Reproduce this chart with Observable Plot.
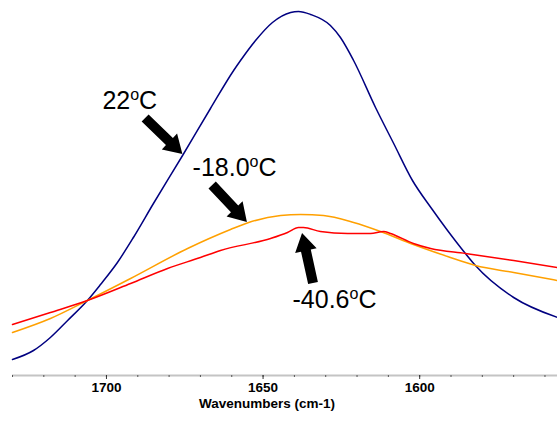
<!DOCTYPE html>
<html><head><meta charset="utf-8">
<script src="https://cdn.jsdelivr.net/npm/d3@7"></script>
<script src="https://cdn.jsdelivr.net/npm/@observablehq/plot@0.6"></script>
<style>body{margin:0;background:#fff;}</style>
</head><body><div id="chart"></div>
<script>
// Series: 22°C (navy)
const navyWn  = [1730.0, 1723.3, 1717.9, 1712.4, 1706.1, 1701.9, 1696.5, 1691.4, 1685.0, 1675.7, 1666.8, 1659.4, 1657.2, 1652.4, 1647.0, 1641.2, 1638.7, 1634.8, 1628.5, 1625.3, 1621.1, 1614.1, 1608.3, 1602.3, 1596.2, 1591.1, 1585.4, 1582.2, 1570.0, 1556.0];
const navyAbs = [0.032, 0.050, 0.076, 0.110, 0.150, 0.182, 0.226, 0.276, 0.344, 0.440, 0.534, 0.610, 0.630, 0.670, 0.706, 0.726, 0.728, 0.722, 0.700, 0.676, 0.630, 0.536, 0.464, 0.390, 0.334, 0.290, 0.244, 0.220, 0.156, 0.116];
// Series: -18.0°C (orange)
const orangeWn  = [1730.0, 1717.9, 1706.1, 1692.3, 1674.1, 1660.4, 1654.6, 1644.4, 1638.0, 1630.7, 1621.1, 1612.5, 1602.0, 1591.1, 1582.2, 1570.0, 1556.0];
const orangeAbs = [0.086, 0.114, 0.150, 0.194, 0.254, 0.292, 0.306, 0.320, 0.322, 0.320, 0.306, 0.288, 0.262, 0.238, 0.220, 0.206, 0.190];
// Series: -40.6°C (red)
const redWn  = [1730.0, 1717.9, 1706.1, 1692.3, 1680.5, 1670.0, 1663.6, 1647.6, 1642.2, 1638.7, 1637.1, 1631.7, 1623.0, 1615.7, 1611.5, 1609.3, 1602.0, 1596.5, 1585.4, 1570.0, 1556.0];
const redAbs = [0.102, 0.126, 0.150, 0.184, 0.214, 0.236, 0.250, 0.274, 0.286, 0.296, 0.296, 0.288, 0.284, 0.284, 0.288, 0.284, 0.264, 0.254, 0.244, 0.230, 0.216];

// Annotations
const labelTexts = ["22°C", "-18.0°C", "-40.6°C"];
const labelWn    = [1701.3, 1672.5, 1640.6];
const labelAbs   = [0.534, 0.400, 0.136];
const arrowTailWn  = [1687.5, 1666.1, 1633.9];
const arrowTailAbs = [0.514, 0.380, 0.184];
const arrowTipWn   = [1675.6, 1655.0, 1637.4];
const arrowTipAbs  = [0.442, 0.306, 0.284];

// Axis
const majorTicks = [1700, 1650, 1600];
const minorTicks = [1730, 1720, 1710, 1700, 1690, 1680, 1670, 1660, 1650, 1640, 1630, 1620, 1610, 1600, 1590, 1580, 1570, 1560];
const xTitle = "Wavenumbers (cm-1)";

const toRows = (wn, ab) => wn.map((w, i) => ({wn: w, abs: ab[i]}));
const navy = toRows(navyWn, navyAbs);
const orange = toRows(orangeWn, orangeAbs);
const red = toRows(redWn, redAbs);
const labels = labelTexts.map((t, i) => ({text: t, wn: labelWn[i], abs: labelAbs[i]}));

const blockArrows = (index, scales) => {
  const ns = "http://www.w3.org/2000/svg";
  const g = document.createElementNS(ns, "g");
  const sw = 5, hw = 11, hl = 18;
  for (let i = 0; i < arrowTipWn.length; i++) {
    const tx = scales.x(arrowTailWn[i]), ty = scales.y(arrowTailAbs[i]);
    const px = scales.x(arrowTipWn[i]), py = scales.y(arrowTipAbs[i]);
    const L = Math.hypot(px - tx, py - ty);
    const ux = (px - tx) / L, uy = (py - ty) / L;
    const nx = -uy, ny = ux;
    const bx = px - ux * hl, by = py - uy * hl;
    const pts = [
      [tx + nx * sw, ty + ny * sw], [bx + nx * sw, by + ny * sw], [bx + nx * hw, by + ny * hw],
      [px, py],
      [bx - nx * hw, by - ny * hw], [bx - nx * sw, by - ny * sw], [tx - nx * sw, ty - ny * sw]
    ];
    const p = document.createElementNS(ns, "polygon");
    p.setAttribute("points", pts.map(d => d.join(",")).join(" "));
    p.setAttribute("fill", "#000");
    g.appendChild(p);
  }
  return g;
};

const chart = Plot.plot({
  width: 557,
  height: 421,
  marginLeft: 12,
  marginRight: 0,
  marginTop: 0,
  marginBottom: 46,
  style: {fontFamily: "'Liberation Sans', Arial, sans-serif", background: "#fff"},
  x: {domain: [1730, 1556], label: null},
  y: {domain: [0, 0.75], axis: null},
  marks: [
    Plot.ruleY([0], {stroke: "#c4c4c4", strokeWidth: 2}),
    Plot.axisX({ticks: minorTicks, tickSize: 2, fill: "none", stroke: "#555", label: null}),
    Plot.axisX({ticks: majorTicks, tickFormat: d => String(d), tickSize: 4, tickPadding: 3, stroke: "#333", fill: "#000", fontWeight: "bold", fontSize: 13.5, label: null}),
    Plot.text([xTitle], {frameAnchor: "bottom", dy: 32, dx: -18, lineAnchor: "bottom", fontWeight: "bold", fontSize: 13.5, fill: "#000"}),
    Plot.line(navy, {x: "wn", y: "abs", stroke: "#000080", strokeWidth: 1.5, curve: "monotone-x"}),
    Plot.line(orange, {x: "wn", y: "abs", stroke: "#ffa000", strokeWidth: 1.5, curve: "monotone-x"}),
    Plot.line(red, {x: "wn", y: "abs", stroke: "#ff0000", strokeWidth: 1.5, curve: "monotone-x"}),
    blockArrows,
    Plot.text(labels, {x: "wn", y: "abs", text: "text", textAnchor: "start", lineAnchor: "bottom", fontSize: 25, fill: "#000"})
  ]
});

// Render the degree sign as a raised small "o", as in the reference
const ns = "http://www.w3.org/2000/svg";
chart.querySelectorAll("text").forEach(t => {
  const s = t.textContent;
  const i = s.indexOf("°");
  if (i < 0) return;
  t.textContent = "";
  t.appendChild(document.createTextNode(s.slice(0, i)));
  const sup = document.createElementNS(ns, "tspan");
  sup.setAttribute("font-size", "16px");
  sup.setAttribute("dy", "-9px");
  sup.textContent = "o";
  t.appendChild(sup);
  const rest = document.createElementNS(ns, "tspan");
  rest.setAttribute("dy", "9px");
  rest.textContent = s.slice(i + 1);
  t.appendChild(rest);
});

document.getElementById("chart").appendChild(chart);
</script>
</body></html>
